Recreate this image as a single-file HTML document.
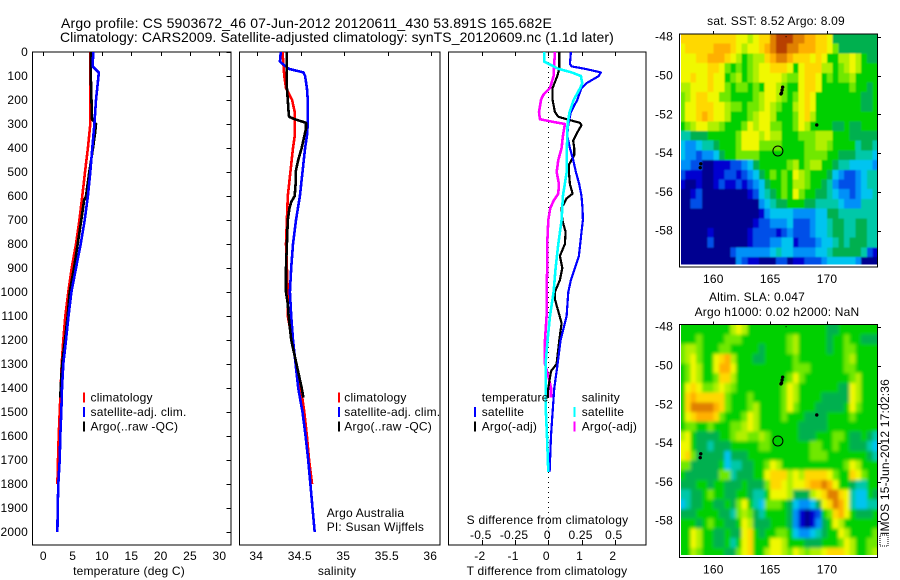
<!DOCTYPE html>
<html>
<head>
<meta charset="utf-8">
<style>
html,body{margin:0;padding:0;background:#fff;}
svg{display:block;}
text{font-family:"Liberation Sans",sans-serif;font-size:12px;fill:#000;letter-spacing:.2px;}
.title{font-size:14px;}
</style>
</head>
<body>
<svg id="fig" width="900" height="580" viewBox="0 0 900 580" xmlns="http://www.w3.org/2000/svg">
<defs>
<filter id="soft-sst" filterUnits="userSpaceOnUse" x="670" y="25" width="220" height="250"><feGaussianBlur in="SourceGraphic" stdDeviation="0.7" result="b"/><feMerge><feMergeNode in="SourceGraphic"/><feMergeNode in="b"/></feMerge></filter>
<filter id="soft-sla" filterUnits="userSpaceOnUse" x="670" y="315" width="220" height="250"><feGaussianBlur in="SourceGraphic" stdDeviation="1.6" result="b"/><feMerge><feMergeNode in="SourceGraphic"/><feMergeNode in="b"/></feMerge></filter>
<clipPath id="clip-sst"><rect x="679.5" y="34" width="198" height="232.8"/></clipPath>
<clipPath id="clip-sla"><rect x="679.5" y="324.7" width="198" height="232.8"/></clipPath>
</defs>
<text class="title" x="61" y="28" style="letter-spacing:.17px">Argo profile: CS 5903672_46 07-Jun-2012 20120611_430 53.891S 165.682E</text>
<text class="title" x="60" y="42" style="letter-spacing:.07px">Climatology: CARS2009. Satellite-adjusted climatology: synTS_20120609.nc (1.1d later)</text>
</svg>
<script>
// ---- temperature panel data
const tempClimDepth=[0,100,200,300,350,400,500,600,700,800,900,1000,1100,1200,1300,1400,1500,1600,1700,1800];
const tempClim=[8.0,8.0,8.0,8.0,7.8,7.6,7.1,6.65,6.15,5.57,4.84,4.26,3.75,3.4,3.13,2.96,2.79,2.62,2.5,2.4];
const tempSatDepth=[0,60,70,85,100,200,300,400,500,600,700,800,900,1000,1100,1200,1300,1400,1500,1600,1700,1800,1900,2000];
const tempSat=[8.52,8.4,8.8,9.43,9.4,8.98,8.7,8.35,8.0,7.6,7.05,6.37,5.57,4.78,4.3,3.87,3.4,3.19,3.07,2.9,2.79,2.56,2.45,2.4];
const tempArgoDepth=[0,100,280,300,340,400,500,600,620,700,800,900,1000,1100,1200,1300,1400,1440];
const tempArgo=[8.1,8.1,8.3,8.98,8.8,8.47,7.84,7.27,6.93,6.47,5.86,5.23,4.5,4.16,3.7,3.2,2.96,2.9];
// ---- salinity panel data
const salClimDepth=[0,100,150,200,250,300,350,400,500,600,700,800,900,1000,1100,1200,1300,1400,1500,1600,1700,1800];
const salClim=[34.29,34.31,34.33,34.40,34.43,34.43,34.43,34.41,34.38,34.35,34.34,34.33,34.34,34.35,34.35,34.40,34.445,34.5,34.54,34.57,34.595,34.63];
const salSatDepth=[0,40,70,85,100,150,200,300,350,400,500,600,700,800,900,1000,1100,1200,1300,1400,1500,1600,1700,1800,1900,2000];
const salSat=[34.27,34.26,34.36,34.53,34.55,34.57,34.58,34.58,34.57,34.55,34.52,34.49,34.445,34.41,34.39,34.375,34.39,34.41,34.44,34.47,34.52,34.555,34.585,34.61,34.635,34.66];
const salArgoDepth=[0,150,200,250,270,280,295,320,350,400,450,500,550,600,625,650,700,800,900,1000,1050,1100,1200,1300,1400,1440];
const salArgo=[34.34,34.34,34.35,34.36,34.365,34.43,34.56,34.56,34.54,34.51,34.47,34.44,34.44,34.43,34.39,34.37,34.35,34.34,34.33,34.33,34.35,34.36,34.39,34.45,34.51,34.53];
// ---- difference panel data
const diffTSatDepth=[0,50,60,70,85,100,130,150,200,250,300,350,400,450,500,550,600,650,700,750,800,850,900,950,1000,1100,1200,1300,1400,1500,1600,1750];
const diffTSat=[.68,.65,.7,1.1,1.58,1.52,1.15,1.0,.87,.68,.6,.57,.65,.75,.83,.93,1.0,1.03,1.04,1.0,.96,.92,.8,.68,.6,.55,.37,.28,.18,.13,.08,.04];
const diffTArgoDepth=[0,50,70,100,150,200,250,270,280,295,305,340,370,400,430,470,500,550,590,610,650,700,750,800,850,900,950,1000,1030,1080,1130,1200,1300,1330,1400,1440];
const diffTArgo=[.33,.33,.33,.27,.13,.13,.2,.3,.55,.95,1.0,.85,.75,.78,.78,.62,.62,.65,.73,.55,.4,.42,.52,.5,.35,.42,.35,.2,.2,.3,.4,.33,.25,.08,0,-.02];
const diffSSatDepth=[0,40,70,85,100,130,150,200,250,300,400,500,600,700,800,900,1000,1100,1200,1300,1400,1500,1600,1750];
const diffSSat=[-.03,-.03,.075,.175,.245,.255,.24,.19,.16,.145,.14,.138,.11,.1,.075,.055,.04,.0125,-.005,-.02,-.018,-.018,-.01,0];
const diffSArgoDepth=[0,100,150,180,200,250,280,290,300,350,400,450,500,550,590,620,650,700,800,900,1000,1100,1200,1300,1350,1400,1440];
const diffSArgo=[.05,.04,.0125,-.04,-.055,-.07,-.063,.025,.125,.11,.1,.075,.063,.08,.075,.04,.015,0,-.008,-.008,-.0125,-.0125,-.025,-.025,0,.02,.02];
// ---- tick labels
const depthTicks=[0,100,200,300,400,500,600,700,800,900,1000,1100,1200,1300,1400,1500,1600,1700,1800,1900,2000];
const tempTicks=[0,5,10,15,20,25,30];
const salTicks=[34,34.5,35,35.5,36];
const diffTTicks=[-2,-1,0,1,2];
const diffSTickLabels=['-0.5','-0.25','0','0.25','0.5'];
const latTicks=[-48,-50,-52,-54,-56,-58];
const lonTicks=[160,165,170];
// ---- map overlay points: lon, lat
const floatLons=[166.0,166.05,165.95,166.1,169.1,158.9,158.85,166.4];
const floatLats=[-50.9,-50.75,-50.95,-50.6,-52.55,-54.55,-54.75,-48.0];
const profileLon=[165.682];
const profileLat=[-53.891];
// ---- colour levels: one character per 0.5 x 0.5 degree cell
const levelKeys='0123456789abcde';
const levelColors=['#000090','#0000d0','#0050e8','#0090f8','#00c4f0','#00c8a8','#00b050','#00d000','#70e800','#b0f000','#f0f800','#ffd800','#ffb000','#e08000','#b84000'];
const sstRows=[
"bbbbb bbbbb aa9ab bdeee ddccb ba666 66666",
"abbbb bcccb a9aab cdeed dcccb ba866 66666",
"aaabb cccba 97899 bcddc bbbab a7799 a9766",
"aaaaa bba87 8789a abbba 7abbb 99789 a9777",
"aabaa baa78 9789a aaa98 8abba 78788 97777",
"99aaa baa87 88787 aa987 7abba 77777 87767",
"89abb aa887 77789 aa987 8aba7 77777 77667",
"8aabb baa98 87889 a9877 9aba7 77777 77667",
"8aabc baa97 7789a a9777 8ab97 77777 77777",
"789aa 99877 78a9a a8877 8a977 77667 66777",
"55666 77777 8aaa9 a9977 78889 99777 66666",
"43345 56777 8aaa8 88877 77889 98777 75665",
"43323 34677 88887 77777 77888 87766 65554",
"33220 01112 23467 77778 97899 77655 44443",
"21110 01122 12346 78787 a9877 76432 23455",
"10010 01211 21234 67787 99877 65322 23455",
"00120 00000 00124 56787 a8776 65433 23445",
"00220 00000 00003 45667 77665 55543 33555",
"00000 00000 00001 34444 33334 46655 55555",
"00000 00000 00012 23334 22234 45665 56655",
"00000 10000 00122 22123 22234 45665 56655",
"00000 20000 00122 23344 12223 44565 66655",
"00000 00002 33333 34544 33334 45666 66521",
"00000 00000 32110 00220 11222 34444 43000"];
const slaRows=[
"77777 77779 a9777 77777 77777 76677 77777",
"77787 77788 87777 77778 97777 76778 77666",
"89987 77887 77776 77778 97777 76778 87777",
"89a87 7abc9 77766 77777 87777 77778 97777",
"78a97 7acca 77777 77777 88877 77778 87777",
"78a97 78bb9 77777 77778 a8777 77777 89777",
"7aba8 89a98 77777 7778a 97777 77766 a9777",
"7bcbb bbb87 77877 7778a 97777 66666 a9777",
"7bddd dcb87 77897 7778a 87776 66667 a8777",
"7abcc cb877 78a97 77787 77666 67777 87777",
"78877 87778 89a97 77777 76666 67777 77777",
"9a766 66778 99889 87777 76667 77887 66765",
"aa766 56667 77778 87777 77788 77877 66654",
"ab866 66646 66777 77777 77788 87777 77765",
"88666 66745 56677 8a977 77777 77778 a9777",
"76666 66885 66677 abbb9 a9bbb ba877 ba877",
"66677 67766 67666 8bba9 aabcc dca77 65577",
"55667 87766 77655 7aaa9 6669a bddba 54476",
"45667 76676 8a754 88876 43346 abdca 54455",
"66677 77665 89865 77776 31012 78bca 76667",
"77767 87766 7a966 67776 31013 67a97 77777",
"77a97 76676 6ab76 77887 43345 677a9 77778",
"77a97 76675 7ab77 7aa97 77666 7778a 97788",
"77987 77766 8ab77 9aa98 a9899 abbba 97789"];

// ---- axis functions
const depthY=d=>52+0.24*d;
const tempX=t=>43.3+5.87*t;
const salX=s=>257.3+87*(s-34);
const diffTX=t=>548.3+33.25*t;
const diffSX=s=>548.3+133*s;
const lonX=l=>713.3+11.37*(l-160);
const latY=(lat,y48)=>y48+19.4*(-48-lat);

const svg=document.getElementById('fig');
const NS='http://www.w3.org/2000/svg';
function make(tag,attrs,name,parent){
  const el=document.createElementNS(NS,tag);
  for(const k in attrs)el.setAttribute(k,attrs[k]);
  
  
  (parent||svg).appendChild(el);
  return el;
}
function label(x,y,str,anchor,name){
  const t=make('text',{x:x,y:y,'text-anchor':anchor||'start'},name);
  t.textContent=str;
  return t;
}
function seg(x1,y1,x2,y2,name,col){
  return make('line',{x1:x1,y1:y1,x2:x2,y2:y2,stroke:col||'#000','stroke-width':1,'shape-rendering':'crispEdges'},name);
}
function box(x,y,w,h,name){
  return make('rect',{x:x,y:y,width:w,height:h,fill:'none',stroke:'#000','stroke-width':1,'shape-rendering':'crispEdges'},name);
}
function series(depths,vals,xf,col,w,name){
  const pts=depths.map((d,i)=>xf(vals[i]).toFixed(1)+','+depthY(d).toFixed(1)).join(' ');
  return make('polyline',{points:pts,fill:'none',stroke:col,'stroke-width':w,'shape-rendering':'crispEdges','stroke-linejoin':'round'},name);
}
function legend(barX,textX,entries,prefix){
  const rows=[401.7,416,430.7];
  entries.forEach((e,i)=>{
    if(e.col){make('rect',{x:barX,y:rows[i]-9,width:2,height:10,fill:e.col,'shape-rendering':'crispEdges'},prefix+'-swatch');}
    label(textX,rows[i],e.txt,'start',prefix+'-label');
  });
}

// ---- panel frames
const T=52,B=545;
box(32.5,T,198.5,B-T,'temperature-axes');
box(239.5,T,200.5,B-T,'salinity-axes');
box(448.5,T,197.5,B-T,'difference-axes');

// ---- temperature panel
depthTicks.forEach(d=>{
  label(28,depthY(d)+4,String(d),'end','depth-tick-label');
  seg(226.5,Math.round(depthY(d))+.5,231,Math.round(depthY(d))+.5,'depth-tick');
});
tempTicks.forEach(t=>{
  label(tempX(t),560,String(t),'middle','temperature-tick-label');
  seg(Math.round(tempX(t))+.5,T,Math.round(tempX(t))+.5,T+4,'temperature-tick');
});
label(129,575,'temperature (deg C)','middle','temperature-axis-title');
series(tempClimDepth,tempClim,tempX,'#ff0000',2.6,'temperature-climatology-line');
series(tempArgoDepth,tempArgo,tempX,'#000000',2.6,'temperature-argo-line');
series(tempSatDepth,tempSat,tempX,'#0000ff',2.6,'temperature-satellite-line');
legend(83,90.5,[{col:'#ff0000',txt:'climatology'},{col:'#0000ff',txt:'satellite-adj. clim.'},{col:'#000000',txt:'Argo(..raw -QC)'}],'temperature-legend');

// ---- salinity panel
salTicks.forEach(s=>{
  label(salX(s)-1,560,String(s),'middle','salinity-tick-label');
  seg(Math.round(salX(s))+.5,T,Math.round(salX(s))+.5,T+4,'salinity-tick');
});
label(337,575,'salinity','middle','salinity-axis-title');
series(salClimDepth,salClim,salX,'#ff0000',2.6,'salinity-climatology-line');
series(salSatDepth,salSat,salX,'#0000ff',2.6,'salinity-satellite-line');
series(salArgoDepth,salArgo,salX,'#000000',2.6,'salinity-argo-line');
legend(338,344.3,[{col:'#ff0000',txt:'climatology'},{col:'#0000ff',txt:'satellite-adj. clim.'},{col:'#000000',txt:'Argo(..raw -QC)'}],'salinity-legend');
label(326.7,517,'Argo Australia','start','credit-line-1');
label(326.7,531,'PI: Susan Wijffels','start','credit-line-2');

// ---- difference panel
make('line',{x1:548.5,y1:T,x2:548.5,y2:B,stroke:'#000','stroke-width':1,'stroke-dasharray':'1 4','shape-rendering':'crispEdges'},'zero-line');
diffTTicks.forEach((t,i)=>{
  const x=Math.round(diffTX(t))+.5;
  seg(x,T,x,T+4,'difference-top-tick');
  seg(x,B-5,x,B,'difference-bottom-tick');
  label(diffTX(t)-2,560,String(t),'middle','t-difference-tick-label');
  label(diffTX(t)-1,539,diffSTickLabels[i],'middle','s-difference-tick-label');
});
const sTitle=label(547.5,524,'S difference from climatology','middle','s-difference-axis-title');
sTitle.style.letterSpacing='.25px';
const tTitle=label(547,575,'T difference from climatology','middle','t-difference-axis-title');
tTitle.style.letterSpacing='.25px';
series(diffSArgoDepth,diffSArgo,diffSX,'#ff00ff',2.6,'salinity-argo-difference-line');
series(diffTArgoDepth,diffTArgo,diffTX,'#000000',2.2,'temperature-argo-difference-line');
series(diffTSatDepth,diffTSat,diffTX,'#0000ff',2.2,'temperature-satellite-difference-line');
series(diffSSatDepth,diffSSat,diffSX,'#00ffff',2.6,'salinity-satellite-difference-line');
legend(474,481.7,[{col:null,txt:'temperature'},{col:'#0000ff',txt:'satellite'},{col:'#000000',txt:'Argo(-adj)'}],'temperature-difference-legend');
legend(573.7,581.7,[{col:null,txt:'salinity'},{col:'#00ffff',txt:'satellite'},{col:'#ff00ff',txt:'Argo(-adj)'}],'salinity-difference-legend');

// ---- maps
function drawMap(rows,y48,top,prefix,filterId,clipId){
  const left=lonX(157),cw=11.37*0.5,ch=19.4*0.5;
  const outer=make('g',{'clip-path':'url(#'+clipId+')'},prefix+'-image-clip');
  const group=make('g',{filter:'url(#'+filterId+')'},prefix+'-image',outer);
  rows.forEach((row,r)=>{
    const cells=row.replace(/ /g,'');
    for(let c=0;c<cells.length;c++){
      const lev=levelKeys.indexOf(cells[c]);
      make('rect',{x:(left+c*cw).toFixed(2),y:(top+r*ch).toFixed(2),width:(cw+.4).toFixed(2),height:(ch+.4).toFixed(2),fill:levelColors[lev],'shape-rendering':'crispEdges'},prefix+'-cell',group);
    }
  });
  make('rect',{x:680,y:top,width:1,height:232.8,fill:'#fff','shape-rendering':'crispEdges'},prefix+'-left-gap');
  make('rect',{x:680,y:top+230.5,width:197.5,height:2.3,fill:'#fff','shape-rendering':'crispEdges'},prefix+'-bottom-gap');
  box(679.5,top,198,232.8,prefix+'-frame');
  latTicks.forEach(l=>{
    const y=latY(l,y48);
    label(673,y+4,String(l),'end',prefix+'-lat-tick-label');
    seg(877.5,Math.round(y)+.5,881,Math.round(y)+.5,prefix+'-lat-tick');
  });
  lonTicks.forEach(l=>{
    const x=lonX(l);
    label(x,top+249,String(l),'middle',prefix+'-lon-tick-label');
    seg(Math.round(x)+.5,top-3,Math.round(x)+.5,top,prefix+'-lon-tick');
  });
  floatLons.forEach((lon,i)=>{
    make('circle',{cx:lonX(lon),cy:latY(floatLats[i],y48),r:i===7?0.6:1.7,fill:'#000'},prefix+'-nearby-float');
  });
  profileLon.forEach((lon,i)=>{
    make('circle',{cx:lonX(lon),cy:latY(profileLat[i],y48),r:5,fill:'none',stroke:'#000','stroke-width':1},prefix+'-profile-marker');
  });
}
drawMap(sstRows,36.7,34,'sst-map','soft-sst','clip-sst');
drawMap(slaRows,326.7,324.7,'sla-map','soft-sla','clip-sla');
label(776,25,'sat. SST: 8.52 Argo: 8.09','middle','sst-map-title');
label(757,301,'Altim. SLA: 0.047','middle','sla-map-title-line-1');
label(777,316,'Argo h1000: 0.02 h2000: NaN','middle','sla-map-title-line-2');

// ---- timestamp
const stamp=make('text',{x:0,y:0,transform:'translate(889,535) rotate(-90)','text-anchor':'start'},'imos-timestamp');
stamp.style.letterSpacing='.18px';
stamp.textContent='IMOS 15-Jun-2012 17:02:36';
make('rect',{x:880,y:535,width:8,height:11,fill:'none',stroke:'#000','stroke-width':1,'stroke-dasharray':'1 1','shape-rendering':'crispEdges'},'imos-logo');
</script>
</body>
</html>
